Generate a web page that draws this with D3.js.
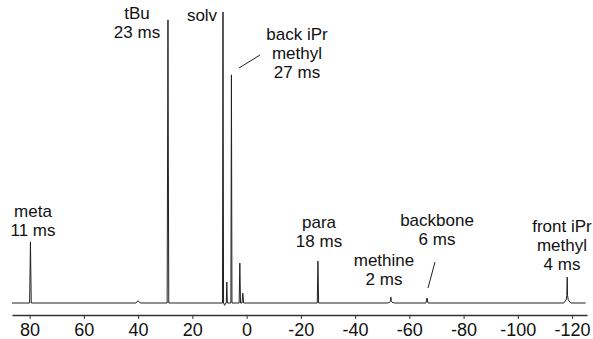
<!DOCTYPE html>
<html>
<head>
<meta charset="utf-8">
<script src="https://cdn.jsdelivr.net/npm/d3@7"></script>
<style>
  body { margin: 0; background: #fff; }
  svg { display: block; font-family: "Liberation Sans", Arial, Helvetica, sans-serif; }
</style>
</head>
<body>
<section id="visualization"></section>
<script>
// peaks (shift in ppm, relative intensity, half width at base in ppm)
var peakShift  = [79.7, 40.0, 29.0, 8.7, 7.3, 5.6, 2.5, 1.4, -26.3, -53.2, -66.5, -118.2];
var peakHeight = [21,   0.8,  97.3, 100, 7.2, 78.4, 13.7, 3.4, 14.4,  2.0,   1.7,   8.9];
var peakWidth  = [0.3,  0.8,  0.3,  0.2, 0.2, 0.2,  0.25, 0.3, 0.25,  1.4,   0.4,   1.3];

var tickValues = [80, 60, 40, 20, 0, -20, -40, -60, -80, -100, -120];

var labelLines = [
  ['meta', '11 ms'],
  ['tBu', '23 ms'],
  ['solv'],
  ['back iPr', 'methyl', '27 ms'],
  ['para', '18 ms'],
  ['methine', '2 ms'],
  ['backbone', '6 ms'],
  ['front iPr', 'methyl', '4 ms']
];

var svg = d3.select("section#visualization")
            .append("svg")
            .attr("width", 593)
            .attr("height", 339);

var x = d3.scaleLinear().domain([86.5, -125.5]).range([12, 587]);
var y = d3.scaleLinear().domain([0, 100]).range([303, 12]);

// spectrum as vertices: baseline, then each peak rise/top/fall
var pts = [[86.5, 0]];
peakShift.forEach(function (s, i) {
  var w = peakWidth[i], h = peakHeight[i];
  if (w > 1) {
    pts.push([s + w, 0], [s + w * 0.3, h * 0.12], [s + 0.12, h * 0.3], [s, h],
             [s - 0.12, h * 0.3], [s - w * 0.3, h * 0.12], [s - w, 0]);
  } else {
    pts.push([s + w, 0], [s, h], [s - w, 0]);
  }
  if (i === 3) pts.push([s - 0.6, -0.8], [s - 0.9, 0]);
});
pts.push([-125, 0]);

svg.append("path")
   .datum(pts)
   .attr("fill", "none")
   .attr("stroke", "#222")
   .attr("stroke-width", 1)
   .attr("d", d3.line().x(function (d) { return x(d[0]); }).y(function (d) { return y(d[1]); }));

// axis
var axis = svg.append("g")
   .attr("transform", "translate(0,315)")
   .call(d3.axisBottom(x).tickValues(tickValues).tickSize(4).tickSizeOuter(0)
          .tickFormat(function (d) { return String(d); }));
axis.select(".domain").attr("stroke", "#333").attr("stroke-width", 1.3);
axis.selectAll(".tick line").attr("stroke", "#333");
axis.selectAll(".tick text")
    .attr("font-size", 18)
    .attr("font-family", "Liberation Sans, Arial, sans-serif")
    .attr("fill", "#111")
    .attr("dy", "0.71em")
    .attr("y", 8);

// annotation layout (pixel centre x, first baseline y)
var labelPos = [[33, 217], [137, 19], [202, 21], [297, 40], [319, 228], [384, 266], [437, 226], [562, 232]];
var lineGap = 19;

labelLines.forEach(function (lines, i) {
  lines.forEach(function (s, j) {
    svg.append("text")
       .attr("text-anchor", "middle")
       .attr("font-size", 17)
       .attr("fill", "#111")
       .attr("x", labelPos[i][0])
       .attr("y", labelPos[i][1] + j * lineGap)
       .text(s);
  });
});

// leader lines
svg.append("line").attr("x1", 239).attr("y1", 68).attr("x2", 260).attr("y2", 55)
   .attr("stroke", "#222").attr("stroke-width", 1);
svg.append("line").attr("x1", 435).attr("y1", 262).attr("x2", 428).attr("y2", 288)
   .attr("stroke", "#222").attr("stroke-width", 1);
</script>
</body>
</html>
